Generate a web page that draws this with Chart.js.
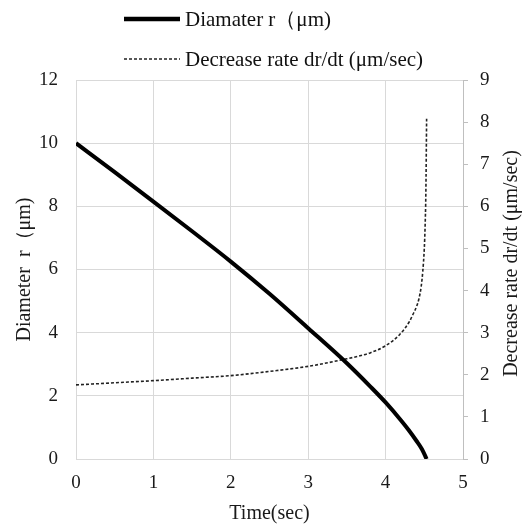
<!DOCTYPE html>
<html>
<head>
<meta charset="utf-8">
<script src="https://cdn.jsdelivr.net/npm/chart.js@4.4.1/dist/chart.umd.min.js"></script>
<style>
  body { margin: 0; background: #fff; }
  #wrap { position: relative; width: 528px; height: 526px; }
  #legend { position: absolute; left: 0; top: 0; width: 528px; font-family: "Liberation Serif", serif; font-size: 21px; color: #111; }
  .row { position: absolute; left: 124px; height: 26px; display: flex; align-items: center; white-space: nowrap; }
  .row svg { margin-right: 5px; }
</style>
</head>
<body>
<div id="wrap">
  <canvas id="myChart" width="528" height="526"></canvas>
  <div id="legend"></div>
</div>
<script>
// data
var timeR  = [0, 0.5, 1, 1.5, 2, 2.5, 3, 3.5, 3.8, 4, 4.2, 4.3, 4.4, 4.47, 4.53];
var radius = [10, 9.08, 8.15, 7.21, 6.25, 5.23, 4.14, 3.03, 2.3, 1.79, 1.22, 0.91, 0.57, 0.31, 0];

var timeRate = [0, 0.5, 1, 1.5, 2, 2.5, 3, 3.5, 3.67, 3.8, 4, 4.18, 4.31, 4.35, 4.4, 4.43, 4.46, 4.48, 4.5, 4.51, 4.52, 4.53];
var rate     = [1.76, 1.81, 1.86, 1.92, 1.98, 2.08, 2.2, 2.38, 2.45, 2.52, 2.69, 2.95, 3.27, 3.42, 3.62, 3.8, 4.1, 4.45, 5.0, 5.5, 6.3, 8.1];

var labelR = "Diamater  r\uFF08\u03BCm)";
var labelRate = "Decrease rate dr/dt (\u03BCm/sec)";
var titleX = "Time(sec)";
var titleLeft = "Diameter  r\uFF08\u03BCm)";
var titleRight = "Decrease rate dr/dt (\u03BCm/sec)";

var xRange = [0, 5, 1];
var leftRange = [0, 12, 2];
var rightRange = [0, 9, 1];

var serif = "'Liberation Serif', 'Times New Roman', serif";
var txt = '#1a1a1a';

function pts(xs, ys) {
  var out = [];
  for (var i = 0; i < xs.length; i++) out.push({x: xs[i], y: ys[i]});
  return out;
}

// right axis title reads bottom-to-top like the left one
var rightTitle = {
  id: 'rightTitle',
  afterDraw: function(chart) {
    var sc = chart.scales.y2;
    var c = chart.ctx;
    c.save();
    c.translate(sc.right - 16, (sc.top + sc.bottom) / 2 - 6);
    c.rotate(-Math.PI / 2);
    c.font = '20px ' + serif;
    c.fillStyle = txt;
    c.textAlign = 'center';
    c.textBaseline = 'middle';
    c.fillText(titleRight, 0, 0);
    c.restore();
  }
};

var ctx = document.getElementById("myChart");
var chart = new Chart(ctx, {
  type: 'line',
  data: {
    datasets: [{
      label: labelR,
      data: pts(timeR, radius),
      yAxisID: 'y',
      borderColor: '#000',
      borderWidth: 4,
      pointRadius: 0,
      cubicInterpolationMode: 'monotone',
      fill: false
    }, {
      label: labelRate,
      data: pts(timeRate, rate),
      yAxisID: 'y2',
      borderColor: '#222',
      borderWidth: 1.6,
      borderDash: [3, 2],
      pointRadius: 0,
      cubicInterpolationMode: 'monotone',
      fill: false
    }]
  },
  options: {
    responsive: false,
    animation: false,
    layout: { padding: { top: 80, left: 0, right: 0, bottom: 0 } },
    plugins: { legend: { display: false }, tooltip: { enabled: false } },
    scales: {
      x: {
        type: 'linear',
        min: xRange[0], max: xRange[1],
        afterFit: function(s) { s.height = 67; },
        ticks: { stepSize: xRange[2], padding: 13, color: txt, font: { family: serif, size: 19 } },
        grid: { color: '#d9d9d9', drawTicks: false },
        border: { color: '#d9d9d9' },
        title: { display: true, text: titleX, color: txt, font: { family: serif, size: 20 }, padding: { top: 0, bottom: 0 } }
      },
      y: {
        position: 'left',
        min: leftRange[0], max: leftRange[1],
        afterFit: function(s) { s.width = 76; },
        ticks: { stepSize: leftRange[2], padding: 18, color: txt, font: { family: serif, size: 19 } },
        grid: { color: '#d9d9d9', drawTicks: false },
        border: { color: '#d9d9d9' },
        title: { display: true, text: titleLeft, color: txt, font: { family: serif, size: 20 }, padding: { top: 13, bottom: 0 } }
      },
      y2: {
        position: 'right',
        min: rightRange[0], max: rightRange[1],
        afterFit: function(s) { s.width = 65; },
        ticks: { stepSize: rightRange[2], padding: 12, color: txt, font: { family: serif, size: 19 } },
        grid: { drawOnChartArea: false, color: '#bfbfbf', tickLength: 5 },
        border: { color: '#bfbfbf' }
      }
    }
  },
  plugins: [rightTitle]
});

// legend in two left-aligned rows, drawn from the dataset styles
var legend = document.getElementById('legend');
var rowTops = [6, 46];
chart.data.datasets.forEach(function(ds, i) {
  var row = document.createElement('div');
  row.className = 'row';
  row.style.top = rowTops[i] + 'px';
  var dash = ds.borderDash ? ds.borderDash.join(',') : 'none';
  row.innerHTML = '<svg width="56" height="10"><line x1="0" y1="5" x2="56" y2="5" stroke="' + ds.borderColor +
    '" stroke-width="' + (i === 0 ? 4.5 : 1.6) + '" stroke-dasharray="' + dash + '"/></svg><span>' + ds.label + '</span>';
  legend.appendChild(row);
});
</script>
</body>
</html>
